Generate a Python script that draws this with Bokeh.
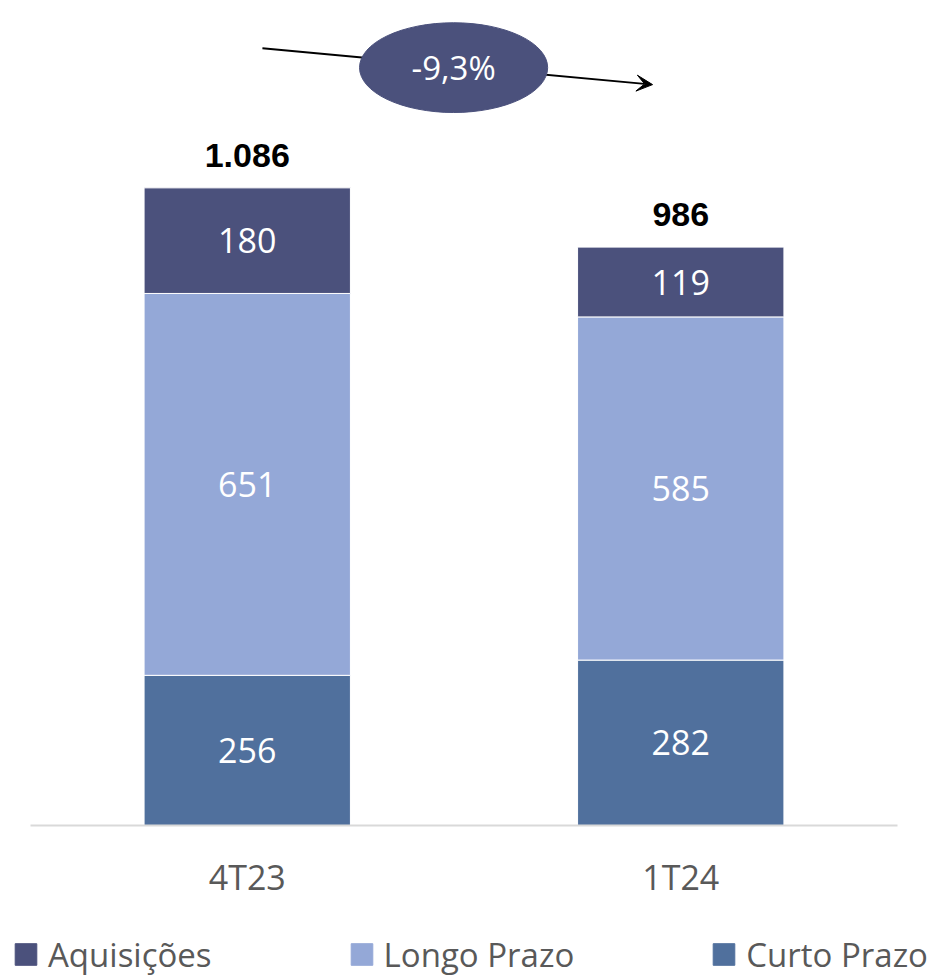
from bokeh.plotting import figure
from bokeh.layouts import column
from bokeh.models import (ColumnDataSource, Range1d, Legend, LegendItem, FixedTicker,
                          Arrow, VeeHead)
from bokeh.core.properties import value
from bokeh.embed import file_html
from bokeh.resources import INLINE

# ---- data ----
categories = ["4T23", "1T24"]
curto_prazo = [256, 282]
longo_prazo = [651, 585]
aquisicoes = [180, 119]
total_labels = ["1.086", "986"]
change_label = "-9,3%"
series_names = ["Aquisições", "Longo Prazo", "Curto Prazo"]

# ---- styles ----
C_AQ = "#4b517c"
C_LP = "#94a8d7"
C_CP = "#50709d"
FONT = "Open Sans"

# category slot centres (slot i spans [i, i+1])
xs = [i + 0.5 for i in range(len(categories))]
totals = [a + b + c for a, b, c in zip(curto_prazo, longo_prazo, aquisicoes)]
mid_cp = [c / 2 for c in curto_prazo]
mid_lp = [c + l / 2 for c, l in zip(curto_prazo, longo_prazo)]
mid_aq = [c + l + a / 2 for c, l, a in zip(curto_prazo, longo_prazo, aquisicoes)]

src = ColumnDataSource(dict(x=xs, cp=curto_prazo, lp=longo_prazo, aq=aquisicoes))

W = 946
FRAME_H = 825
MAIN_H = 930
PX_X = 433.5          # pixels per category slot
LEFT_PAD = 30         # pixels left of first slot
PX_Y = 0.5866         # pixels per value unit
x0 = -LEFT_PAD / PX_X
p = figure(x_range=Range1d(x0, x0 + W / PX_X),
           y_range=Range1d(0, FRAME_H / PX_Y),
           width=W, height=MAIN_H,
           output_backend="svg", toolbar_location=None,
           y_axis_location=None, min_border_left=0, min_border_right=0,
           min_border_top=0, min_border_bottom=MAIN_H - FRAME_H)
p.outline_line_color = None
p.xgrid.visible = False
p.ygrid.visible = False
p.background_fill_color = "white"

rs = p.vbar_stack(["cp", "lp", "aq"], x="x", width=0.476, color=[C_CP, C_LP, C_AQ],
                  line_color="white", line_width=1, source=src)

# segment labels
seg_x = xs * 3
seg_y = mid_cp + mid_lp + mid_aq
seg_t = [str(v) for v in curto_prazo + longo_prazo + aquisicoes]
p.text(x=seg_x, y=seg_y, text=seg_t, text_align="center", text_baseline="middle",
       text_color="white", text_font=value(FONT), text_font_size="34px")

# totals
pad = 21 / PX_Y
p.text(x=xs, y=[t + pad for t in totals], text=total_labels, text_align="center",
       text_baseline="bottom", text_color="black", text_font=value("Liberation Sans"),
       text_font_size="34px", text_font_style="bold")

# change arrow + ellipse
arrow = Arrow(end=VeeHead(size=16, fill_color="black", line_color="black", line_width=1),
              x_start=0.535, y_start=1325, x_end=1.435, y_end=1263,
              line_width=2, line_color="black", level="underlay")
p.add_layout(arrow)
p.ellipse(x=[0.976], y=[1292], width=0.434, height=153, fill_color=C_AQ, line_color=C_AQ)
p.text(x=[0.976], y=[1292], text=[change_label], text_align="center", text_baseline="middle",
       text_color="white", text_font=value(FONT), text_font_size="33px")

# axis
ax = p.xaxis[0]
ax.ticker = FixedTicker(ticks=xs)
ax.major_label_overrides = {x: c for x, c in zip(xs, categories)}
ax.bounds = (0, len(categories))
ax.axis_line_color = "#d9d9d9"
ax.axis_line_width = 2
ax.major_tick_line_color = None
ax.minor_tick_line_color = None
ax.major_label_text_font = FONT
ax.major_label_text_font_size = "34px"
ax.major_label_text_color = "#595959"
ax.major_label_standoff = 22

# legend strip (separate figure below the chart)
lf = figure(width=W, height=977 - MAIN_H, x_range=Range1d(0, 1), y_range=Range1d(0, 1),
            output_backend="svg", toolbar_location=None,
            x_axis_location=None, y_axis_location=None,
            min_border_left=0, min_border_right=0, min_border_top=0, min_border_bottom=0)
lf.outline_line_color = None
lf.xgrid.visible = False
lf.ygrid.visible = False
legend_colors = [C_AQ, C_LP, C_CP]
items = []
for name, col in zip(series_names, legend_colors):
    r = lf.vbar(x=[0], top=[0], bottom=[0], width=0, fill_color=col, line_color=col)
    items.append(LegendItem(label=name, renderers=[r]))

legend = Legend(items=items, orientation="horizontal", location="center_left",
                glyph_width=27, glyph_height=27, label_standoff=9, spacing=136,
                label_text_font=FONT, label_text_font_size="33px",
                label_text_color="#595959", border_line_color=None,
                background_fill_alpha=0, padding=0, margin=12)
lf.add_layout(legend)

layout = column(p, lf, spacing=0)
open("out.html", "w").write(file_html(layout, INLINE))
